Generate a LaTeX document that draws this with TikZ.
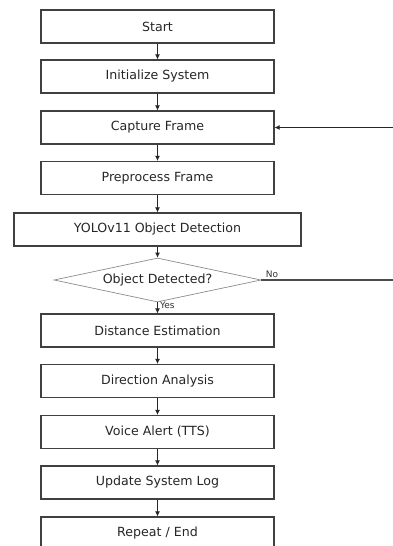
\documentclass[tikz,border=0pt]{standalone}
\usepackage{fontspec}
\setmainfont{DejaVu Sans}
\usetikzlibrary{arrows.meta,shapes.geometric}
\begin{document}
\begin{tikzpicture}[x=1pt,y=-1pt,
  box/.style={draw=black!75,line width=1.2pt,minimum width=233pt,minimum height=33pt,inner sep=0pt,font=\fontsize{12.6}{15}\selectfont,text=black!85},
  dec/.style={draw=black!45,line width=0.7pt,shape=diamond,aspect=4.7,minimum width=207pt,minimum height=44pt,inner sep=0pt,font=\fontsize{12.6}{15}\selectfont,text=black!85},
  flow/.style={draw=black!85,line width=1.1pt,-{Latex[length=5pt,width=5pt]}},
  lbl/.style={font=\fontsize{9}{11}\selectfont,text=black!80,inner sep=0pt}]
\clip (0,0) rectangle (393,546);
\fill[white] (0,0) rectangle (393,546);
\node[box] (start) at (157.5,26.5) {Start};
\node[box] (init) at (157.5,76.5) {Initialize System};
\node[box] (cap) at (157.5,127.5) {Capture Frame};
\node[box] (pre) at (157.5,178) {Preprocess Frame};
\node[box,minimum width=287pt] (yolo) at (157.5,229.5) {YOLOv11 Object Detection};
\node[dec] (det) at (157.5,280) {Object Detected?};
\node[box] (dist) at (157.5,330.5) {Distance Estimation};
\node[box] (dir) at (157.5,381) {Direction Analysis};
\node[box] (voice) at (157.5,432) {Voice Alert (TTS)};
\node[box] (upd) at (157.5,482.5) {Update System Log};
\node[box] (rep) at (157.5,533.5) {Repeat / End};
\coordinate (noend) at (396,280);
\coordinate (loopin) at (396,127.5);
\draw[flow] (start) -- (init);
\draw[flow] (init) -- (cap);
\draw[flow] (cap) -- (pre);
\draw[flow] (pre) -- (yolo);
\draw[flow] (yolo) -- (det);
\draw[flow] (det) -- node[lbl,anchor=west,xshift=2pt,yshift=3pt] {Yes} (dist);
\draw[flow] (dist) -- (dir);
\draw[flow] (dir) -- (voice);
\draw[flow] (voice) -- (upd);
\draw[flow] (upd) -- (rep);
\draw[draw=black!70,line width=1.1pt] (det.east) -- node[lbl,pos=0.03,anchor=south west,yshift=2pt] {No} (noend);
\draw[flow] (loopin) -- (cap.east);
\end{tikzpicture}
\end{document}
